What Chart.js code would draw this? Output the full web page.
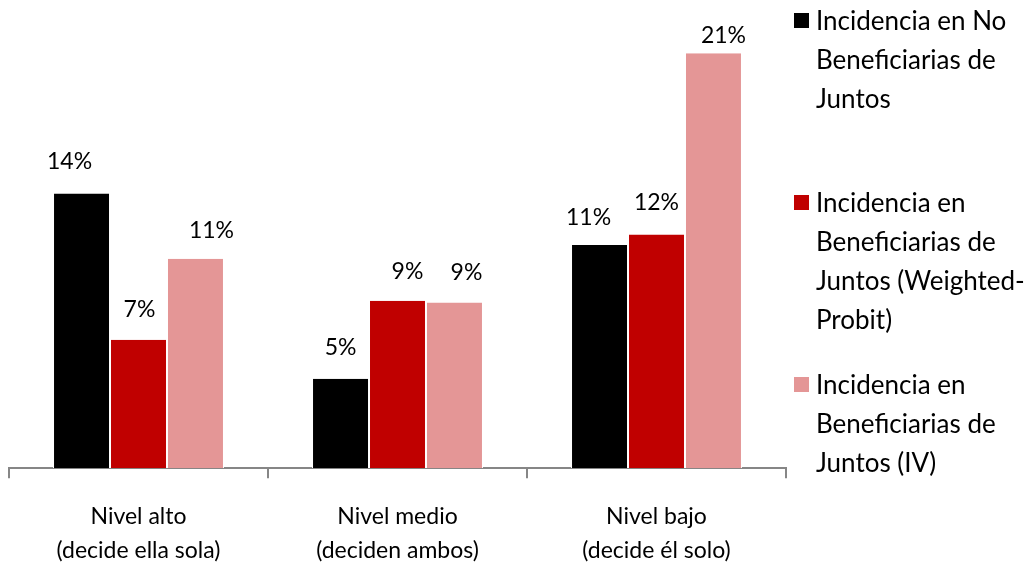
<!DOCTYPE html>
<html>
<head>
<meta charset="utf-8">
<script src="https://cdn.jsdelivr.net/npm/chart.js@4/dist/chart.umd.min.js"></script>
<style>
  html, body { margin: 0; padding: 0; background: #fff; }
  #wrap { width: 1029px; height: 570px; position: relative; }
</style>
</head>
<body>
<div id="wrap"><canvas id="c" width="1029" height="570"></canvas></div>
<script>
// ---- Data ----
const categories = [
  ["Nivel alto", "(decide ella sola)"],
  ["Nivel medio", "(deciden ambos)"],
  ["Nivel bajo", "(decide él solo)"]
];
const seriesNames = [
  ["Incidencia en No", "Beneficiarias de", "Juntos"],
  ["Incidencia en", "Beneficiarias de", "Juntos (Weighted-", "Probit)"],
  ["Incidencia en", "Beneficiarias de", "Juntos (IV)"]
];
const noBeneficiarias = [14.1, 4.6, 11.45];
const weightedProbit = [6.6, 8.6, 12.0];
const ivEstimate = [10.75, 8.5, 21.3];

// ---- Styles ----
const colors = ["#000000", "#C00000", "#E49696"];
const FONT = "Lato, 'Open Sans', sans-serif";

// label nudges [dx, dy above bar] per dataset per category (style only)
const labelNudges = [
  [[-12, 24], [0, 24], [-11, 20]],
  [[1, 23], [10, 22], [0, 24]],
  [[16, 21], [12, 23], [10, 10]]
];

const dataLabelPlugin = {
  id: 'dataLabels',
  afterDatasetsDraw(chart) {
    const ctx = chart.ctx;
    ctx.save();
    ctx.font = "23px " + FONT;
    ctx.fillStyle = "#000";
    ctx.textAlign = "center";
    ctx.textBaseline = "alphabetic";
    chart.data.datasets.forEach((ds, di) => {
      const meta = chart.getDatasetMeta(di);
      meta.data.forEach((el, i) => {
        const n = labelNudges[di][i];
        ctx.fillText(Math.round(ds.data[i]) + "%", el.x + n[0], el.y - n[1]);
      });
    });
    ctx.restore();
  }
};

const legendPlugin = {
  id: 'sideLegend',
  afterDraw(chart) {
    const ctx = chart.ctx;
    ctx.save();
    ctx.font = "26px " + FONT;
    ctx.textBaseline = "alphabetic";
    ctx.textAlign = "left";
    const x0 = 794, textX = 816, firstBase = 30, slot = 182, lh = 39, sq = 15;
    chart.data.datasets.forEach((ds, di) => {
      const base = firstBase + di * slot;
      ctx.fillStyle = ds.backgroundColor;
      ctx.fillRect(x0, base - 17, sq, sq);
      ctx.fillStyle = "#000";
      seriesNames[di].forEach((line, li) => {
        ctx.fillText(line, textX, base + li * lh);
      });
    });
    ctx.restore();
  }
};

function draw() {
  new Chart(document.getElementById('c'), {
    type: 'bar',
    data: {
      labels: categories,
      datasets: [
        { label: seriesNames[0].join(' '), data: noBeneficiarias, backgroundColor: colors[0] },
        { label: seriesNames[1].join(' '), data: weightedProbit, backgroundColor: colors[1] },
        { label: seriesNames[2].join(' '), data: ivEstimate, backgroundColor: colors[2] }
      ]
    },
    options: {
      responsive: false,
      animation: false,
      devicePixelRatio: 1,
      layout: { padding: { left: 9, right: 243, top: 20, bottom: -19 } },
      datasets: {
        bar: {
          categoryPercentage: 0.66,
          barPercentage: 1.0,
          borderColor: '#ffffff',
          borderWidth: { left: 1, right: 1, top: 0, bottom: 0 },
          borderSkipped: false
        }
      },
      plugins: {
        legend: { display: false },
        tooltip: { enabled: false }
      },
      scales: {
        y: { display: false, min: 0, max: 23 },
        x: {
          grid: {
            offset: true,
            drawOnChartArea: false,
            drawTicks: true,
            tickLength: 10,
            color: '#868686',
            lineWidth: 2
          },
          border: { display: true, color: '#868686', width: 2 },
          ticks: {
            color: '#000',
            padding: 22,
            font: { family: FONT, size: 23, lineHeight: 1.45 },
            maxRotation: 0,
            autoSkip: false
          }
        }
      }
    },
    plugins: [dataLabelPlugin, legendPlugin]
  });
}

if (document.fonts && document.fonts.load) {
  Promise.all([document.fonts.load("23px Lato"), document.fonts.load("26px Lato")])
    .then(draw, draw);
} else {
  draw();
}
</script>
</body>
</html>
